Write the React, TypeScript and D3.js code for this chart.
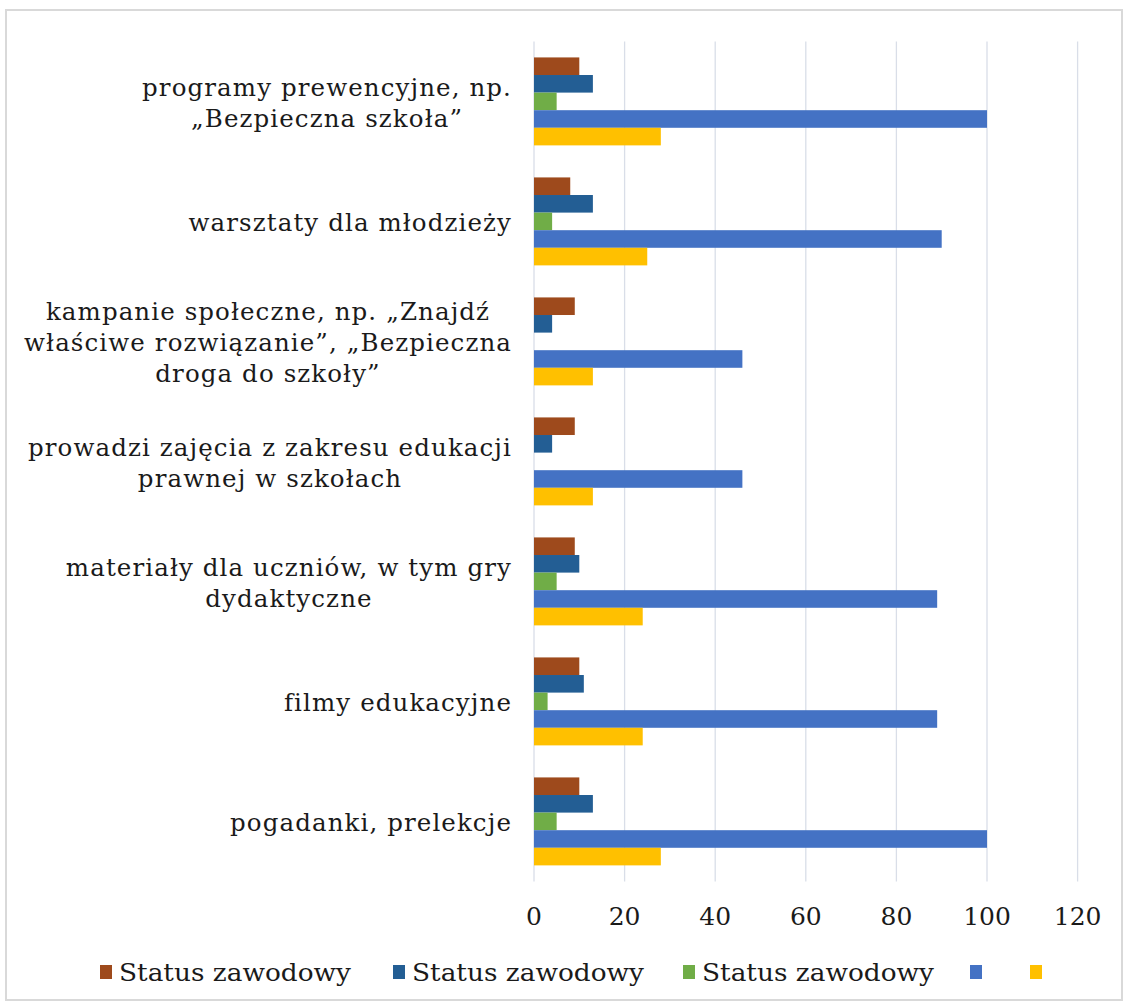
import React, { useEffect, useRef } from "react";
import * as d3 from "d3";

const categories: string[][] = [
  ["programy prewencyjne, np.", "„Bezpieczna szkoła”"],
  ["warsztaty dla młodzieży"],
  ["kampanie społeczne, np. „Znajdź", "właściwe rozwiązanie”, „Bezpieczna", "droga do szkoły”"],
  ["prowadzi zajęcia z zakresu edukacji", "prawnej w szkołach"],
  ["materiały dla uczniów, w tym gry", "dydaktyczne"],
  ["filmy edukacyjne"],
  ["pogadanki, prelekcje"],
];

const seriesNames = ["Status zawodowy", "Status zawodowy", "Status zawodowy", "", ""];
const seriesColors = ["#9E4A1C", "#235E94", "#70AD47", "#4472C4", "#FFC000"];

const s1 = [10, 8, 9, 9, 9, 10, 10];
const s2 = [13, 13, 4, 4, 10, 11, 13];
const s3 = [5, 4, 0, 0, 5, 3, 5];
const s4 = [100, 90, 46, 46, 89, 89, 100];
const s5 = [28, 25, 13, 13, 24, 24, 28];
const seriesValues = [s1, s2, s3, s4, s5];

const xTicks = [0, 20, 40, 60, 80, 100, 120];

const W = 1123;
const H = 1005;
const FONT = "'DejaVu Serif', 'Liberation Serif', serif";

export default function App() {
  const ref = useRef<SVGSVGElement | null>(null);

  useEffect(() => {
    const svg = d3.select(ref.current);
    svg.selectAll("*").remove();

    svg
      .append("rect")
      .attr("x", 6)
      .attr("y", 10)
      .attr("width", 1116)
      .attr("height", 990)
      .attr("fill", "#fff")
      .attr("stroke", "#d9d9d9")
      .attr("stroke-width", 2);

    const x = d3.scaleLinear().domain([0, 120]).range([534, 1077.6]);
    const idx = categories.map((_, i) => String(i));
    const y = d3
      .scaleBand<string>()
      .domain(idx)
      .range([41.4, 881.4])
      .paddingInner(0.267)
      .paddingOuter(0.1335);
    const ys = d3
      .scaleBand<number>()
      .domain(d3.range(seriesValues.length))
      .range([0, y.bandwidth()]);

    // gridlines
    svg
      .append("g")
      .selectAll("line")
      .data(xTicks)
      .join("line")
      .attr("x1", (d) => x(d))
      .attr("x2", (d) => x(d))
      .attr("y1", 41.4)
      .attr("y2", 881.4)
      .attr("stroke", "#d9dee8")
      .attr("stroke-width", 1.3);

    // bars
    seriesValues.forEach((vals, si) => {
      svg
        .append("g")
        .selectAll("rect")
        .data(vals)
        .join("rect")
        .attr("x", x(0))
        .attr("y", (_, i) => (y(String(i)) as number) + (ys(si) as number))
        .attr("width", (d) => x(d) - x(0))
        .attr("height", ys.bandwidth())
        .attr("fill", seriesColors[si]);
    });

    // x tick labels
    svg
      .append("g")
      .selectAll("text")
      .data(xTicks)
      .join("text")
      .attr("x", (d) => x(d))
      .attr("y", 925)
      .attr("text-anchor", "middle")
      .attr("font-family", FONT)
      .attr("font-size", 25)
      .attr("fill", "#1a1a1a")
      .text((d) => String(d));

    // category labels: block right-aligned, lines centered within block
    const right = 512;
    const lineH = 31;
    categories.forEach((lines, i) => {
      const cy = (y(String(i)) as number) + y.bandwidth() / 2;
      const g = svg.append("g");
      const texts = g
        .selectAll("text")
        .data(lines)
        .join("text")
        .attr("font-family", FONT)
        .attr("font-size", 24.5)
        .attr("letter-spacing", 1.1)
        .attr("fill", "#1a1a1a")
        .attr("text-anchor", "middle")
        .attr("y", (_, li) => cy + (li - (lines.length - 1) / 2) * lineH + 10)
        .text((d) => d);
      let maxW = 0;
      texts.each(function () {
        const w = (this as SVGTextElement).getComputedTextLength();
        if (w > maxW) maxW = w;
      });
      texts.attr("x", right - maxW / 2);
    });

    // legend
    const legendX = [100, 393, 683, 970, 1030];
    const lg = svg.append("g");
    seriesNames.forEach((name, i) => {
      lg.append("rect")
        .attr("x", legendX[i])
        .attr("y", 965)
        .attr("width", 12)
        .attr("height", 14)
        .attr("fill", seriesColors[i]);
      if (name) {
        lg.append("text")
          .attr("x", legendX[i] + 19)
          .attr("y", 981)
          .attr("font-family", FONT)
          .attr("font-size", 24)
          .attr("fill", "#1a1a1a")
          .attr("textLength", 232)
          .attr("lengthAdjust", "spacingAndGlyphs")
          .text(name);
      }
    });
  }, []);

  return (
    <svg
      ref={ref}
      width={W}
      height={H}
      style={{ position: "absolute", left: 0, top: 0, background: "#fff" }}
    />
  );
}
